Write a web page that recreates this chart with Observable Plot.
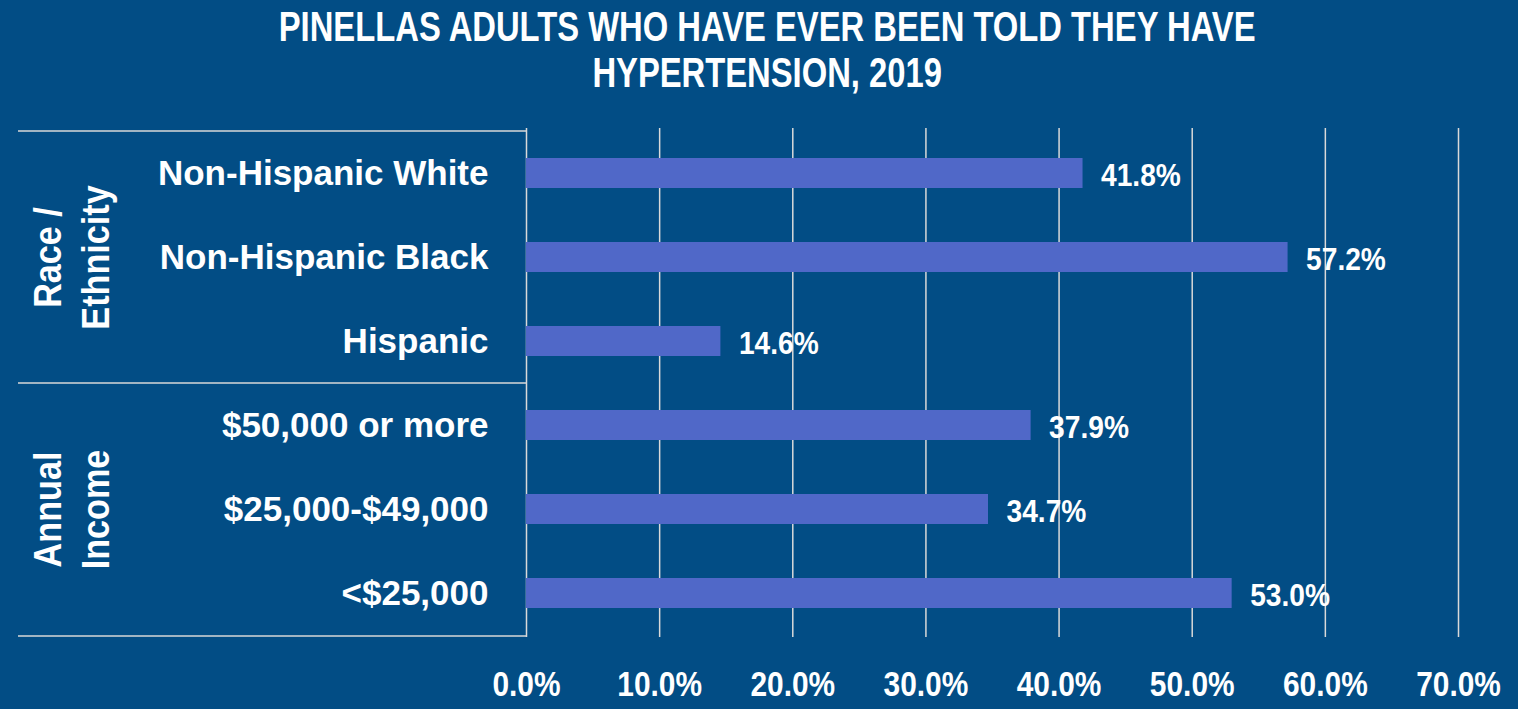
<!DOCTYPE html>
<html>
<head>
<meta charset="utf-8">
<script src="https://cdn.jsdelivr.net/npm/d3@7"></script>
<script src="https://cdn.jsdelivr.net/npm/@observablehq/plot@0.6"></script>
<style>
  html, body { margin: 0; padding: 0; background: #024d85; overflow: hidden; }
  #title {
    height: 106px; padding-top: 4px; padding-left: 17px;
    text-align: center; color: #fff;
    font-family: "Liberation Sans", Arial, sans-serif;
    font-weight: bold; font-size: 42px; line-height: 46px;
  }
  #title span { display: inline-block; transform: scaleX(0.78); transform-origin: center; white-space: nowrap; }
  #chart { width: 1518px; height: 599px; }
</style>
</head>
<body>
<div id="title"><span>PINELLAS ADULTS WHO HAVE EVER BEEN TOLD THEY HAVE<br>HYPERTENSION, 2019</span></div>
<div id="chart"></div>
<script>
// ---- data ----
const categories = ["Non-Hispanic White", "Non-Hispanic Black", "Hispanic", "$50,000 or more", "$25,000-$49,000", "<$25,000"];
const values = [41.8, 57.2, 14.6, 37.9, 34.7, 53.0];
const groupLabels = ["Race /\nEthnicity", "Annual\nIncome"];
const groupMiddle = ["Non-Hispanic Black", "$25,000-$49,000"];
const groupStarts = ["Non-Hispanic White", "$50,000 or more"];
const groupEnd = ["<$25,000"];
const xTicks = [0, 10, 20, 30, 40, 50, 60, 70];

// ---- layout ----
const W = 1518, H = 599, mL = 526, mR = 60, mT = 18, mB = 72;
const step = (H - mT - mB) / categories.length;
const font = "'Liberation Sans', Arial, sans-serif";
const pct = d => d.toFixed(1) + "%";

const data = categories.map((c, i) => ({category: c, value: values[i]}));
const groups = groupLabels.map((g, i) => ({label: g, mid: groupMiddle[i]}));

const chart = Plot.plot({
  width: W, height: H,
  marginLeft: mL, marginRight: mR, marginTop: mT, marginBottom: mB,
  style: {background: "transparent", color: "#fff", overflow: "visible", fontFamily: font},
  x: {domain: [0, 70], axis: null},
  y: {domain: categories, paddingInner: 0.647, paddingOuter: 0.3235, axis: null},
  marks: [
    Plot.gridX(xTicks, {stroke: "#d9d9d9", strokeOpacity: 1, strokeWidth: 1.5}),
    Plot.ruleY(groupStarts, {y: d => d, dy: -step / 2, stroke: "#d9d9d9", strokeWidth: 1.5,
      insetLeft: -(mL - 18), insetRight: W - mL - mR}),
    Plot.ruleY(groupEnd, {y: d => d, dy: step / 2, stroke: "#d9d9d9", strokeWidth: 1.5,
      insetLeft: -(mL - 18), insetRight: W - mL - mR}),
    Plot.barX(data, {y: "category", x: "value", fill: "#5068c8"}),
    Plot.axisX(xTicks, {anchor: "bottom", label: null, tickSize: 0, tickPadding: 33,
      tickFormat: pct, fontSize: 36, fontWeight: "bold", fontFamily: font, fill: "#fff",
      className: "sq-tick"}),
    Plot.axisY({anchor: "left", label: null, tickSize: 0, tickPadding: 38,
      fontSize: 35, fontWeight: "bold", fontFamily: font, fill: "#fff"}),
    Plot.text(data, {y: "category", x: "value", text: d => pct(d.value), textAnchor: "start",
      dx: 18, dy: 2, fontSize: 32, fontWeight: "bold", fontFamily: font, fill: "#fff",
      className: "sq-val"}),
    Plot.text(groups, {y: "mid", frameAnchor: "left", text: "label", rotate: -90,
      dx: 69 - mL, lineHeight: 1.26, textAnchor: "middle", lineAnchor: "middle",
      fontSize: 38, fontWeight: "bold", fontFamily: font, fill: "#fff",
      className: "sq-grp"})
  ]
});

// condense text horizontally (narrow face look) around each label's anchor
function squeeze(root, cls, s) {
  root.querySelectorAll(`.${cls} text`).forEach(t => {
    const tr = t.getAttribute("transform") || "";
    const xa = t.getAttribute("x");
    const x = xa != null && !isNaN(+xa) ? +xa : 0;
    if (xa != null && !isNaN(+xa)) t.removeAttribute("x");
    t.setAttribute("transform", `${tr} translate(${x},0) scale(${s},1)`);
  });
}
squeeze(chart, "sq-tick", 0.83);
squeeze(chart, "sq-val", 0.88);
squeeze(chart, "sq-grp", 0.9);
document.getElementById("chart").appendChild(chart);
</script>
</body>
</html>
